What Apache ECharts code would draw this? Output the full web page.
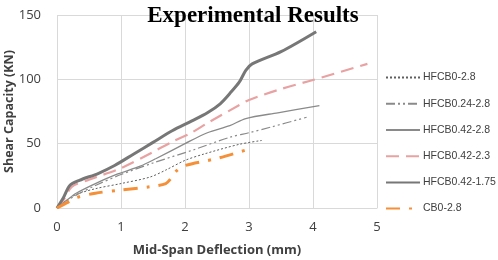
<!DOCTYPE html>
<html>
<head>
<meta charset="utf-8">
<script src="https://cdn.jsdelivr.net/npm/echarts@6/dist/echarts.min.js"></script>
<style>
  html, body { margin: 0; padding: 0; background: #fff; }
  #chart { width: 498px; height: 260px; }
</style>
</head>
<body>
<div id="chart"></div>
<script>
// deflection (mm), shear capacity (KN) pairs
const seriesNames = ['HFCB0-2.8', 'HFCB0.24-2.8', 'HFCB0.42-2.8', 'HFCB0.42-2.3', 'HFCB0.42-1.75', 'CB0-2.8'];

const hfcb0_28 = [[0, 0], [0.15, 6], [0.3, 10.5], [0.6, 15], [1.0, 19], [1.45, 24], [1.7, 29.5], [2.0, 37], [2.3, 42], [2.85, 49.5], [3.2, 52.5]];
const hfcb024_28 = [[0, 0], [0.15, 5.5], [0.3, 10], [0.6, 17.5], [1.0, 26], [1.5, 35], [2.15, 45.5], [2.7, 55], [3.0, 58.5], [3.35, 63], [3.9, 70.5]];
const hfcb042_28 = [[0, 0], [0.15, 6], [0.3, 11.5], [0.6, 19], [0.95, 26.5], [1.3, 32.5], [1.55, 38.5], [2.0, 50], [2.35, 58.5], [2.7, 64], [2.95, 69.5], [3.45, 74], [4.1, 79.5]];
const hfcb042_23 = [[0, 0], [0.12, 7.5], [0.23, 16.5], [0.5, 22], [1.0, 31], [1.5, 43.5], [1.8, 51.5], [2.1, 58.5], [2.35, 66], [2.85, 80], [3.0, 84], [3.5, 92.5], [4.0, 99.5], [4.85, 112]];
const hfcb042_175 = [[0, 0], [0.1, 8], [0.2, 17.5], [0.35, 21.5], [0.65, 27], [0.9, 33], [1.2, 42], [1.5, 51], [1.8, 60], [2.1, 67.5], [2.35, 74], [2.55, 81], [2.7, 89], [2.85, 98], [2.95, 107], [3.05, 112], [3.5, 121.5], [4.05, 137]];
const cb0_28 = [[0, 0], [0.15, 4], [0.3, 8], [0.6, 11.5], [1.0, 14], [1.45, 16.5], [1.7, 19], [1.78, 23], [1.87, 29], [2.0, 33], [2.5, 38.5], [2.95, 45]];

const xTicks = [0, 1, 2, 3, 4, 5];
const yTicks = [0, 50, 100, 150];

const chart = echarts.init(document.getElementById('chart'), null, { renderer: 'canvas' });

function line(name, data, color, width, type, smooth) {
  return {
    name,
    type: 'line',
    data,
    symbol: 'none',
    smooth,
    lineStyle: { color, width, type },
    itemStyle: { color },
  };
}

chart.setOption({
  animation: false,
  title: {
    text: 'Experimental Results',
    left: 248,
    textAlign: 'center',
    top: 0,
    textStyle: { fontFamily: 'Liberation Serif', fontWeight: 'bold', fontSize: 23, color: '#000' },
  },
  legend: {
    orient: 'vertical',
    left: 385,
    top: 72,
    padding: 0,
    itemWidth: 34,
    itemHeight: 14,
    itemGap: 15,
    itemStyle: { opacity: 0 },
    textStyle: { fontFamily: 'Liberation Sans', fontSize: 10.5, color: '#404040', padding: [0, 0, 0, -2] },
    data: seriesNames,
  },
  grid: { left: 57, right: 121, top: 15, bottom: 52, outerBoundsMode: 'none' },
  xAxis: {
    type: 'value',
    min: xTicks[0],
    max: xTicks[xTicks.length - 1],
    interval: 1,
    name: 'Mid-Span Deflection (mm)',
    nameLocation: 'middle',
    nameGap: 36,
    nameMoveOverlap: false,
    nameTextStyle: { fontFamily: 'Open Sans', fontWeight: 'bold', fontSize: 13, color: '#404040' },
    axisLine: { show: true, lineStyle: { color: '#d9d9d9' } },
    axisTick: { show: false },
    axisLabel: { fontFamily: 'Open Sans', fontSize: 13, color: '#404040', margin: 13 },
    splitLine: { show: true, lineStyle: { color: '#d9d9d9' } },
  },
  yAxis: {
    type: 'value',
    min: yTicks[0],
    max: yTicks[yTicks.length - 1],
    interval: 50,
    name: 'Shear Capacity (KN)',
    nameLocation: 'middle',
    nameGap: 41,
    nameMoveOverlap: false,
    nameTextStyle: { fontFamily: 'Open Sans', fontWeight: 'bold', fontSize: 12.5, color: '#404040' },
    axisLine: { show: false },
    axisTick: { show: false },
    axisLabel: { fontFamily: 'Open Sans', fontSize: 13, color: '#404040', margin: 16 },
    splitLine: { show: true, lineStyle: { color: '#d9d9d9' } },
  },
  series: [
    line('HFCB0-2.8', hfcb0_28, '#5f5f5f', 1, [2, 2], 0.3),
    line('HFCB0.24-2.8', hfcb024_28, '#8a8a8a', 1.2, [9, 3, 2, 3, 2, 3], 0.3),
    line('HFCB0.42-2.8', hfcb042_28, '#8a8a8a', 1.3, 'solid', 0.3),
    line('HFCB0.42-2.3', hfcb042_23, '#e8a2a2', 2.2, [13, 7], 0.3),
    line('HFCB0.42-1.75', hfcb042_175, '#777777', 3, 'solid', 0.3),
    line('CB0-2.8', cb0_28, '#f59038', 3, [14, 9, 3, 9], 0.3),
  ],
});
</script>
</body>
</html>
